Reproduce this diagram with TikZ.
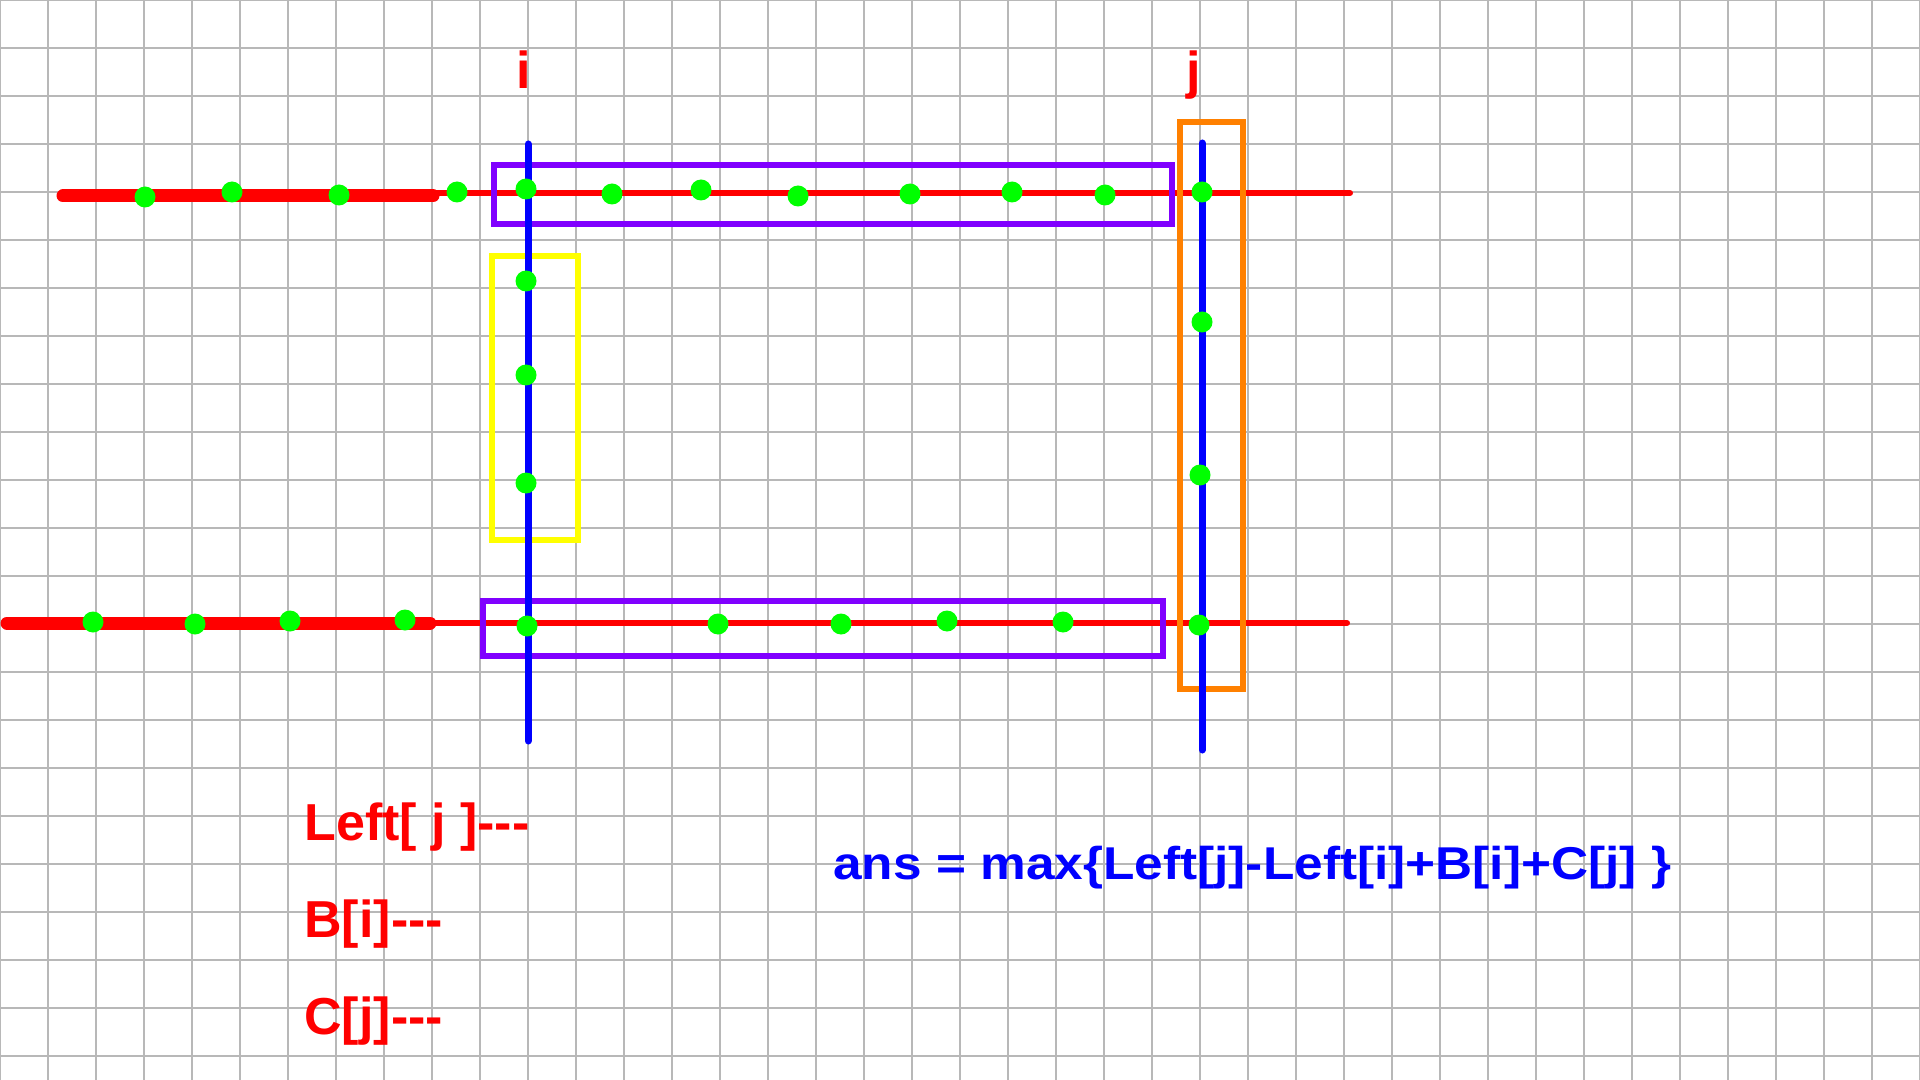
\documentclass[tikz,border=0pt]{standalone}
\usepackage{fontspec}
\setmainfont{Liberation Sans}
\usepackage{xcolor}
\usepackage{tikz}
\usetikzlibrary{positioning}

\definecolor{gridgray}{RGB}{184,184,184}
\definecolor{ptred}{RGB}{255,0,0}
\definecolor{ptblue}{RGB}{0,0,255}
\definecolor{ptgreen}{RGB}{0,255,0}
\definecolor{boxpurple}{RGB}{128,0,255}
\definecolor{boxyellow}{RGB}{255,255,0}
\definecolor{boxorange}{RGB}{255,128,0}

\newcommand{\tripledash}{-\kern0pt-\kern0pt-}

\begin{document}
\begin{tikzpicture}[x=0.5pt, y=-0.5pt, node distance=48.5pt and 0pt,
		gridline/.style={gridgray, line width=0.75pt},
		redthin/.style={ptred, line width=3pt, line cap=round},
		redthick/.style={ptred, line width=6.5pt, line cap=round},
		blueline/.style={ptblue, line width=3.5pt, line cap=round},
		dot/.style={circle, fill=ptgreen, draw=none, minimum size=10.5pt, inner sep=0pt},
		framebox/.style={line width=3.2pt},
		idxlabel/.style={text=ptred, font=\bfseries\fontsize{26pt}{30pt}\selectfont, inner sep=0pt, anchor=base},
		termlabel/.style={text=ptred, font=\bfseries\fontsize{26pt}{30pt}\selectfont, inner sep=0pt, anchor=base west}]
		\useasboundingbox (0,0) rectangle (1920,1080);
		\fill[white] (0,0) rectangle (1920,1080);
		
		% Grid
		\foreach \x in {0,48,...,1920} \draw[gridline] (\x,0) -- (\x,1080);
		\foreach \y in {0,48,...,1056} \draw[gridline] (0,\y) -- (1920,\y);
		
		% Red lines
		\coordinate (topS) at (63,196);
		\coordinate (topM) at (433,196);
		\coordinate (topN) at (433,193);
		\coordinate (topE) at (1350,193);
		\coordinate (botS) at (7,623);
		\coordinate (botM) at (430,623);
		\coordinate (botE) at (1347,623);
		\draw[redthin] (topN) -- (topE);
		\draw[redthick] (topS) -- (topM);
		\draw[redthin] (botM) -- (botE);
		\draw[redthick] (botS) -- (botM);
		
		% Boxes
		\draw[framebox, boxpurple] (494,165) rectangle (1172,224);
		\draw[framebox, boxpurple] (483,601) rectangle (1163,656);
		\draw[framebox, boxyellow] (492,256) rectangle (578,540);
		\draw[framebox, boxorange, line width=3.4pt] (1180,122) rectangle (1243,689);
		
		% Blue lines
		\coordinate (iTop) at (528,144);
		\coordinate (iBot) at (528,741);
		\coordinate (jTop) at (1202,143);
		\coordinate (jBot) at (1202,750);
		\draw[blueline] (iTop) -- (iBot);
		\draw[blueline] (jTop) -- (jBot);
		
		% Points on the upper line
		\node[dot] (t1) at (145,197) {};
		\node[dot] (t2) at (232,192) {};
		\node[dot] (t3) at (339,195) {};
		\node[dot] (t4) at (457,192) {};
		\node[dot] (t5) at (526,189) {};
		\node[dot] (t6) at (612,194) {};
		\node[dot] (t7) at (701,190) {};
		\node[dot] (t8) at (798,196) {};
		\node[dot] (t9) at (910,194) {};
		\node[dot] (t10) at (1012,192) {};
		\node[dot] (t11) at (1105,195) {};
		\node[dot] (t12) at (1202,192) {};
		
		% Points on the lower line
		\node[dot] (b1) at (93,622) {};
		\node[dot] (b2) at (195,624) {};
		\node[dot] (b3) at (290,621) {};
		\node[dot] (b4) at (405,620) {};
		\node[dot] (b5) at (527,626) {};
		\node[dot] (b6) at (718,624) {};
		\node[dot] (b7) at (841,624) {};
		\node[dot] (b8) at (947,621) {};
		\node[dot] (b9) at (1063,622) {};
		\node[dot] (b10) at (1199,625) {};
		
		% Points on the vertical lines
		\node[dot] (li1) at (526,281) {};
		\node[dot] (li2) at (526,375) {};
		\node[dot] (li3) at (526,483) {};
		\node[dot] (rj1) at (1202,322) {};
		\node[dot] (rj2) at (1200,475) {};
		
		% Index labels
		\node[idxlabel] (ilab) at (524,89) {i};
		\node[idxlabel] (jlab) at (1194,89) {j};
		
		% Terms
		\node[termlabel] (leftj) at (304,840) {Left[ j ]\tripledash};
		\node[termlabel, below=of leftj.base west, anchor=base west] (bi) {B[i]\tripledash};
		\node[termlabel, below=of bi.base west, anchor=base west] (cj) {C[j]\tripledash};
		
		% Answer
		\node[text=ptblue, font=\bfseries\fontsize{23pt}{27pt}\selectfont, inner sep=0pt, anchor=base west] (ans) at (833,879) {\scalebox{1.117}[1]{ans = max\{Left[j]-Left[i]+B[i]+C[j] \}}};
	\end{tikzpicture}
\end{document}
